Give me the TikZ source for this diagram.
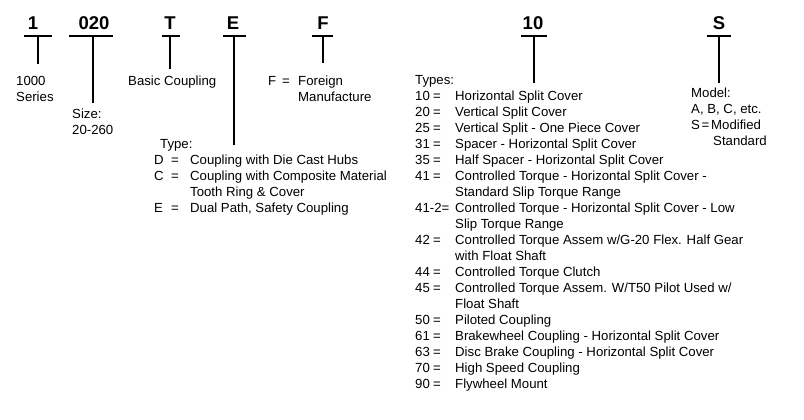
\documentclass[tikz,border=0pt]{standalone}
\usepackage{fontspec}
\setmainfont{Liberation Sans}
\begin{document}
\begin{tikzpicture}[x=1pt,y=-1pt,
  txt/.style={anchor=base west,inner sep=0pt,font=\fontsize{13.2}{16}\selectfont},
  lab/.style={anchor=base,inner sep=0pt,font=\bfseries\fontsize{18.5}{22}\selectfont},
  bar/.style={line width=2.5pt}]
\useasboundingbox[fill=white] (0,0) rectangle (804,420);
% top code letters
\node[lab] (l1)  at (33,30)  {1};
\node[lab] (l2)  at (94,30)  {020};
\node[lab] (l3)  at (170,30) {T};
\node[lab] (l4)  at (233,30) {E};
\node[lab] (l5)  at (323,30) {F};
\node[lab] (l6)  at (533,30) {10};
\node[lab] (l7)  at (719,30) {S};
% bars and stems
\foreach \n/\a/\b/\m/\e in {1/24/52/38/64, 2/69/113/93/103, 3/162/180/170/69, 4/223/246/234/145, 5/312/333/323/63, 6/521/547/534/83, 7/707/731/719/83}{
  \coordinate (bL\n) at (\a,36);
  \coordinate (bR\n) at (\b,36);
  \coordinate (bM\n) at (\m,36);
  \coordinate (bE\n) at (\m,\e);
  \draw[bar] (bL\n) -- (bR\n);
  \draw[bar] (bM\n) -- (bE\n);
}
% series
\node[txt] (s1) at (16,85.5) {1000};
\node[txt] (s2) at (16,101.5) {Series};
% size
\node[txt] (z1) at (72,118.5) {Size:};
\node[txt] (z2) at (72,134.5) {20-260};
% basic coupling
\node[txt] (bc) at (128,85.5) {Basic Coupling};
% foreign
\node[txt] (f1) at (268,85.5) {F};
\node[txt] (f2) at (282,85.5) {=};
\node[txt] (f3) at (298,85.5) {Foreign};
\node[txt] (f4) at (298,101.5) {Manufacture};
% type block
\node[txt] (e0) at (160,148.5) {Type:};
\node[txt] (e1) at (154,164.5) {D};
\node[txt] (e1q) at (171,164.5) {=};
\node[txt] (e1d) at (190,164.5) {Coupling with Die Cast Hubs};
\node[txt] (e2) at (154,180.5) {C};
\node[txt] (e2q) at (171,180.5) {=};
\node[txt] (e2d) at (190,180.5) {Coupling with Composite Material};
\node[txt] (e2c) at (190,196.5) {Tooth Ring \& Cover};
\node[txt] (e3) at (154,212.5) {E};
\node[txt] (e3q) at (171,212.5) {=};
\node[txt] (e3d) at (190,212.5) {Dual Path, Safety Coupling};
% model
\node[txt] (m0) at (691,97.5) {Model:};
\node[txt] (m1) at (691,113.5) {A, B, C, etc.};
\node[txt] (m2) at (691,129.5) {S};
\node[txt] (m2q) at (701.5,129.5) {=};
\node[txt] (m2d) at (711,129.5) {Modified};
\node[txt] (m3) at (713,145.5) {Standard};
% types list
\node[txt] (t0) at (415,84.5) {Types:};
\foreach \i/\num/\desc in {
  1/10/{Horizontal Split Cover},
  2/20/{Vertical Split Cover},
  3/25/{Vertical Split - One Piece Cover},
  4/31/{Spacer - Horizontal Split Cover},
  5/35/{Half Spacer - Horizontal Split Cover},
  6/41/{Controlled Torque - Horizontal Split Cover -},
  10/42/{Controlled Torque Assem w/G-20 Flex. Half Gear},
  12/44/{Controlled Torque Clutch},
  13/45/{Controlled Torque Assem. W/T50 Pilot Used w/},
  15/50/{Piloted Coupling},
  16/61/{Brakewheel Coupling - Horizontal Split Cover},
  17/63/{Disc Brake Coupling - Horizontal Split Cover},
  18/70/{High Speed Coupling},
  19/90/{Flywheel Mount}}{
  \node[txt] (tn\i) at (415,84.5+16*\i) {\num};
  \node[txt] (tq\i) at (433,84.5+16*\i) {=};
  \node[txt] (td\i) at (455,84.5+16*\i) {\desc};
}
\node[txt] (tn8) at (415,212.5) {41-2=};
\node[txt] (td8) at (455,212.5) {Controlled Torque - Horizontal Split Cover - Low};
\node[txt] (tc7) at (455,196.5) {Standard Slip Torque Range};
\node[txt] (tc9) at (455,228.5) {Slip Torque Range};
\node[txt] (tc11) at (455,260.5) {with Float Shaft};
\node[txt] (tc14) at (455,308.5) {Float Shaft};
\end{tikzpicture}
\end{document}
